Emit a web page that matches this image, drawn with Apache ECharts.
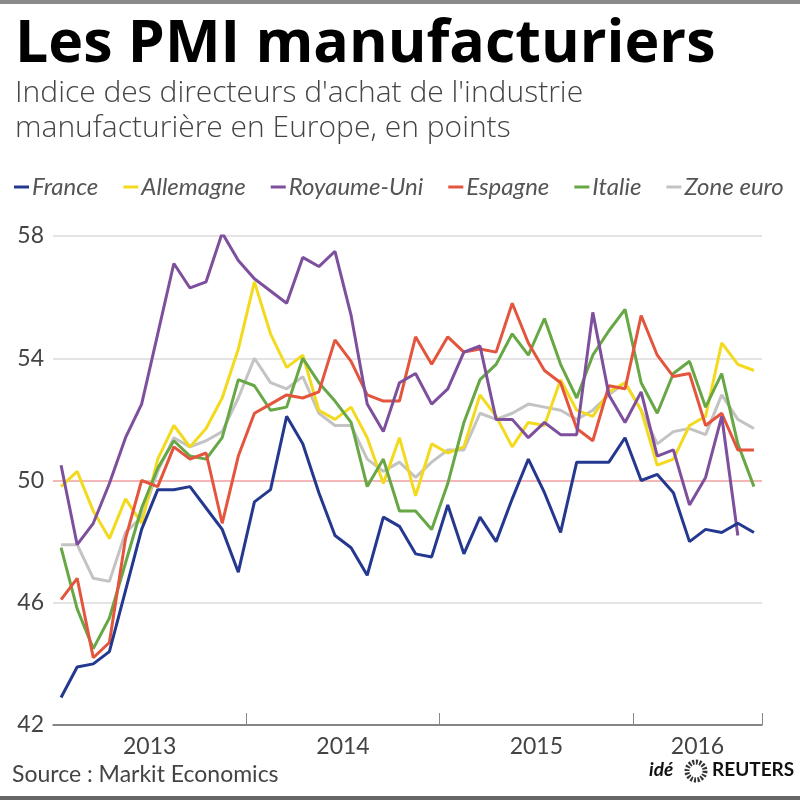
<!DOCTYPE html>
<html>
<head>
<meta charset="utf-8">
<script src="https://cdn.jsdelivr.net/npm/echarts@6/dist/echarts.min.js"></script>
<style>
  html, body { margin: 0; padding: 0; background: #fff; }
  #chart { width: 800px; height: 800px; }
</style>
</head>
<body>
<div id="chart"></div>
<script>
// ---- Data ----
const months = [
  '2013-01','2013-02','2013-03','2013-04','2013-05','2013-06','2013-07','2013-08','2013-09','2013-10','2013-11','2013-12',
  '2014-01','2014-02','2014-03','2014-04','2014-05','2014-06','2014-07','2014-08','2014-09','2014-10','2014-11','2014-12',
  '2015-01','2015-02','2015-03','2015-04','2015-05','2015-06','2015-07','2015-08','2015-09','2015-10','2015-11','2015-12',
  '2016-01','2016-02','2016-03','2016-04','2016-05','2016-06','2016-07','2016-08'
];
const yearLabelIdx = [5, 17, 29, 39];
const yTicks = [42, 46, 50, 54, 58];

const france = [42.9,43.9,44.0,44.4,46.4,48.4,49.7,49.7,49.8,49.1,48.4,47.0,
  49.3,49.7,52.1,51.2,49.6,48.2,47.8,46.9,48.8,48.5,47.6,47.5,
  49.2,47.6,48.8,48.0,49.4,50.7,49.6,48.3,50.6,50.6,50.6,51.4,
  50.0,50.2,49.6,48.0,48.4,48.3,48.6,48.3];
const allemagne = [49.8,50.3,49.0,48.1,49.4,48.6,50.7,51.8,51.1,51.7,52.7,54.3,
  56.5,54.8,53.7,54.1,52.3,52.0,52.4,51.4,49.9,51.4,49.5,51.2,
  50.9,51.1,52.8,52.1,51.1,51.9,51.8,53.3,52.3,52.1,52.9,53.2,
  52.3,50.5,50.7,51.8,52.1,54.5,53.8,53.6];
const royaumeUni = [50.5,47.9,48.6,49.9,51.4,52.5,54.8,57.1,56.3,56.5,58.1,57.2,
  56.6,56.2,55.8,57.3,57.0,57.5,55.4,52.5,51.6,53.2,53.5,52.5,
  53.0,54.2,54.4,52.0,52.0,51.4,51.9,51.5,51.5,55.5,52.8,51.9,
  52.9,50.8,51.0,49.2,50.1,52.1,48.2];
const espagne = [46.1,46.8,44.2,44.7,48.1,50.0,49.8,51.1,50.7,50.9,48.6,50.8,
  52.2,52.5,52.8,52.7,52.9,54.6,53.9,52.8,52.6,52.6,54.7,53.8,
  54.7,54.2,54.3,54.2,55.8,54.5,53.6,53.2,51.7,51.3,53.1,53.0,
  55.4,54.1,53.4,53.5,51.8,52.2,51.0,51.0];
const italie = [47.8,45.8,44.5,45.5,47.3,49.1,50.4,51.3,50.8,50.7,51.4,53.3,
  53.1,52.3,52.4,54.0,53.2,52.6,51.9,49.8,50.7,49.0,49.0,48.4,
  49.9,51.9,53.3,53.8,54.8,54.1,55.3,53.8,52.7,54.1,54.9,55.6,
  53.2,52.2,53.5,53.9,52.4,53.5,51.2,49.8];
const zoneEuro = [47.9,47.9,46.8,46.7,48.3,48.8,50.3,51.4,51.1,51.3,51.6,52.7,
  54.0,53.2,53.0,53.4,52.2,51.8,51.8,50.7,50.3,50.6,50.1,50.6,
  51.0,51.0,52.2,52.0,52.2,52.5,52.4,52.3,52.0,52.3,52.8,53.2,
  52.3,51.2,51.6,51.7,51.5,52.8,52.0,51.7];

const seriesNames = ['France','Allemagne','Royaume-Uni','Espagne','Italie','Zone euro'];
const seriesData = [france, allemagne, royaumeUni, espagne, italie, zoneEuro];
const seriesColors = ['#25388f','#f3da1f','#7d4f9d','#e4553e','#67a746','#c3c3c3'];

const FONT = 'Lato, "Open Sans", sans-serif';
const TFONT = '"Open Sans", Lato, sans-serif';

const chart = echarts.init(document.getElementById('chart'), null, {renderer: 'canvas'});

const drawOrder = [5, 1, 4, 3, 2, 0];
const series = drawOrder.map(i => ({
  name: seriesNames[i],
  type: 'line',
  data: seriesData[i],
  symbol: 'none',
  smooth: false,
  z: 2 + drawOrder.indexOf(i),
  lineStyle: { width: 3, color: seriesColors[i] },
  itemStyle: { color: seriesColors[i] },
  emphasis: { disabled: true }
}));

chart.setOption({
  animation: false,
  backgroundColor: '#fff',
  title: {
    text: 'Les PMI manufacturiers',
    subtext: "Indice des directeurs d'achat de l'industrie\nmanufacturière en Europe, en points",
    left: 10, top: 11, itemGap: 1,
    textStyle: { fontFamily: TFONT, fontWeight: 'bold', fontSize: 59, color: '#000' },
    subtextStyle: { fontFamily: TFONT, fontWeight: 300, fontSize: 30, color: '#444', lineHeight: 35 }
  },
  legend: {
    data: seriesNames,
    left: 9, top: 170,
    icon: 'rect', itemWidth: 15, itemHeight: 3, itemGap: 25,
    textStyle: { fontFamily: FONT, fontStyle: 'italic', fontSize: 24, color: '#555', padding: [0, 0, 0, -2] }
  },
  grid: { left: 53, right: 38, top: 236, bottom: 75, containLabel: false },
  xAxis: {
    type: 'category',
    data: months,
    boundaryGap: true,
    axisLine: { lineStyle: { color: '#666', width: 1.5 } },
    axisTick: {
      show: true, inside: true, length: 12,
      interval: (i) => i > 0 && i % 12 === 0,
      lineStyle: { color: '#888', width: 1 }
    },
    axisLabel: {
      interval: (i) => yearLabelIdx.includes(i),
      margin: 10,
      formatter: (v) => '{a|' + v.slice(0, 4) + '}',
      rich: { a: { fontFamily: FONT, fontSize: 23, color: '#444', padding: [0, 0, 0, 16] } }
    },
    splitLine: { show: false }
  },
  yAxis: {
    type: 'value',
    min: yTicks[0], max: yTicks[yTicks.length - 1], interval: 4,
    axisLine: { show: false },
    axisTick: { show: false },
    axisLabel: { fontFamily: FONT, fontSize: 23, color: '#444', margin: 9 },
    splitLine: { lineStyle: { color: ['#e4e4e4', '#e4e4e4', '#f3b7b7', '#e4e4e4', '#e4e4e4'], width: 2 } }
  },
  graphic: [
    { type: 'rect', left: 0, top: 0, shape: { width: 800, height: 4 }, style: { fill: '#8a8a8a' } },
    { type: 'rect', left: 0, top: 796, shape: { width: 800, height: 4 }, style: { fill: '#666' } },
    { type: 'text', left: 12, top: 763, style: { text: 'Source : Markit Economics', font: '23px ' + FONT, fill: '#444' } },
    { type: 'text', left: 649, top: 760, style: { text: 'idé', font: 'italic bold 19px ' + FONT, fill: '#111' } },
    { type: 'circle', shape: { cx: 696, cy: 771, r: 9 }, style: { fill: 'none', stroke: '#333', lineWidth: 5, lineDash: [2, 1.5] } },
    { type: 'text', left: 712, top: 760, style: { text: 'REUTERS', font: 'bold 19px ' + FONT, fill: '#111' } }
  ],
  series: series
});
</script>
</body>
</html>
